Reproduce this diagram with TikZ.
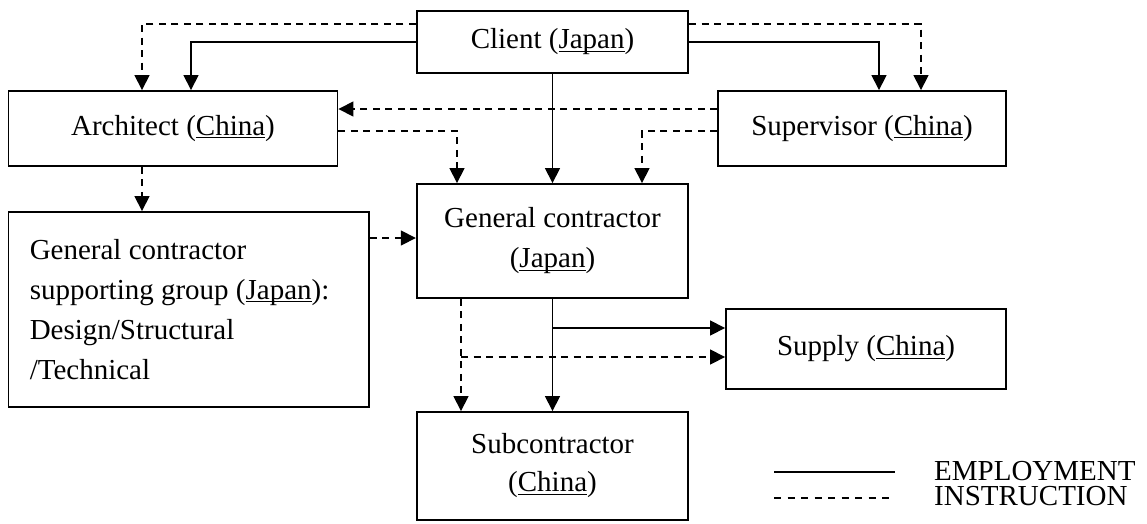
\documentclass[tikz,border=0pt]{standalone}
\usepackage{fontspec}
\setmainfont{Liberation Serif}
\usetikzlibrary{arrows.meta}
\newsavebox\ulnbox
% underline that sits just under the baseline and crosses descenders
\newcommand\uln[1]{\sbox\ulnbox{#1}\leavevmode\rlap{\rule[-3pt]{\wd\ulnbox}{1.3pt}}\usebox\ulnbox}
\tikzset{
  box/.style={draw, line width=1.9pt, inner sep=0pt, align=center,
              font=\fontsize{29}{40}\selectfont},
  emp/.style={line width=1.6pt, -{Triangle[width=15pt,length=15pt]}},
  ins/.style={emp, dash pattern=on 7pt off 5.5pt},
  legend/.style={anchor=base west, inner sep=0pt, align=flush left,
                 font=\fontsize{29}{25.5}\selectfont}
}
\begin{document}
\begin{tikzpicture}[x=1pt,y=-1pt]
\useasboundingbox (0,0) rectangle (1147,523);

% boxes
\node[box, minimum width=271.5pt, minimum height=62pt]  (client) at (552.5,42)   {Client (\uln{Japan})};
\node[box, minimum width=329pt,   minimum height=75pt]  (arch)   at (173,128.5)  {Architect (\uln{China})};
\node[box, minimum width=288pt,   minimum height=75pt]  (sup)    at (862,128.5)  {Supervisor (\uln{China})};
\node[box, minimum width=271.5pt, minimum height=114pt] (gc)     at (552.5,241)  {General contractor\\(\uln{Japan})};
\node[box, minimum width=360.5pt, minimum height=195pt, text width=318pt, align=flush left]
                                                         (gcsg)   at (188.75,309.5)
  {General contractor\\supporting group (\uln{Japan}):\\Design/Structural\\/Technical};
\node[box, minimum width=280pt,   minimum height=80pt]  (supply) at (866,349)    {Supply (\uln{China})};
\node[box, minimum width=271pt,   minimum height=108pt, font=\fontsize{29}{38}\selectfont]
                                                         (sub)    at (552.5,466)  {Subcontractor\\(\uln{China})};

% guide levels and columns for the connectors
\coordinate (ytop) at (0,24);
\coordinate (ysa)  at (0,109);
\coordinate (yag)  at (0,131);
\coordinate (ygs)  at (0,238);
\coordinate (yse)  at (0,328);
\coordinate (ysi)  at (0,357);
\coordinate (xai)  at (142,0);
\coordinate (xae)  at (191,0);
\coordinate (xge)  at (879,0);
\coordinate (xgi)  at (921,0);
\coordinate (xag)  at (457,0);
\coordinate (xsg)  at (642,0);
\coordinate (xgd)  at (461,0);

% client
\draw[ins] (client.west |- ytop) -| (xai |- arch.north);
\draw[emp] (client.west) -| (xae |- arch.north);
\draw[emp] (client.east) -| (xge |- sup.north);
\draw[ins] (client.east |- ytop) -| (xgi |- sup.north);
\draw[emp] (client.south) -- (gc.north);

% architect and supervisor
\draw[ins] (sup.west |- ysa) -- (arch.east |- ysa);
\draw[ins] (arch.east |- yag) -| (xag |- gc.north);
\draw[ins] (sup.west |- yag) -| (xsg |- gc.north);
\draw[ins] (xai |- arch.south) -- (xai |- gcsg.north);
\draw[ins] (gcsg.east |- ygs) -- (gc.west |- ygs);

% general contractor
\draw[emp] (gc.south) -- (sub.north);
\draw[ins] (xgd |- gc.south) -- (xgd |- sub.north);
\draw[emp] (gc.south |- yse) -- (supply.west |- yse);
\draw[ins] (xgd |- ysi) -- (supply.west |- ysi);

% legend
\coordinate (le1) at (774,472);
\coordinate (le2) at (895,472);
\coordinate (li1) at (774,498);
\coordinate (li2) at (895,498);
\draw[line width=1.4pt] (le1) -- (le2);
\draw[line width=1.4pt, dash pattern=on 7pt off 6.5pt] (li1) -- (li2);
\node[legend] (lkey) at (934,505.5) {EMPLOYMENT\\INSTRUCTION};
\end{tikzpicture}
\end{document}
